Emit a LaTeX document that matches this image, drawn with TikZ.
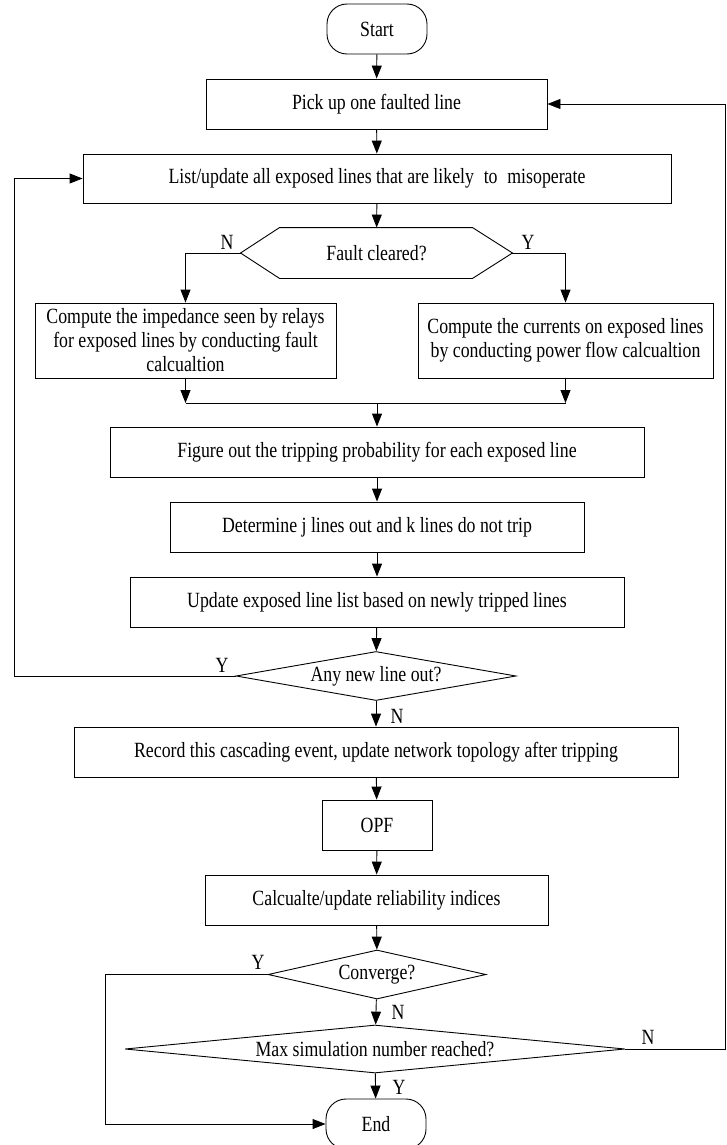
\documentclass[tikz,border=0pt]{standalone}
\usepackage{fontspec}
\setmainfont{Liberation Serif}[FakeStretch=0.82]
\usetikzlibrary{arrows.meta, shapes.geometric}

\tikzset{
    block/.style={draw, rectangle, inner sep=0pt, align=center},
    terminal/.style={draw, rectangle, rounded corners=20pt, inner sep=0pt, minimum width=100pt, minimum height=50pt},
    decision/.style={draw, diamond, inner sep=0pt},
    tag/.style={inner sep=0pt}
}

\begin{document}
\begin{tikzpicture}[x=1pt, y=-1pt, line width=0.9pt, >={Triangle[length=13pt,width=10pt]},
    font=\fontsize{21.7}{24}\selectfont]
    \useasboundingbox (0,0) rectangle (726,1145);

    % Top part
    \node[terminal] (start) at (377,29) {Start};
    \node[block, minimum width=341pt, minimum height=50pt] (pick) at (376.5,104) {Pick up one faulted line};
    \node[block, minimum width=588pt, minimum height=49pt] (list) at (377,178.5)
        {List/update all exposed lines that are likely\hspace{0.45em}to\hspace{0.45em}misoperate};

    % Fault cleared (hexagon)
    \node[tag, minimum width=271pt, minimum height=50pt] (fault) at (376.5,253) {Fault cleared?};
    \draw (fault.west) -- ([xshift=39pt]fault.north west) -- ([xshift=-40pt]fault.north east)
        -- (fault.east) -- ([xshift=-40pt]fault.south east) -- ([xshift=39pt]fault.south west) -- cycle;

    % Two branches
    \node[block, minimum width=301pt, minimum height=75pt] (cl) at (185.5,340.5)
        {Compute the impedance seen by relays\\for exposed lines by conducting fault\\calcualtion};
    \node[block, minimum width=295pt, minimum height=75pt] (cr) at (565.5,340.5)
        {Compute the currents on exposed lines\\by conducting power flow calcualtion};
    \coordinate (jl) at (185.5,403);
    \coordinate (jr) at (565.5,403);
    \coordinate (jc) at (377,403);

    % Middle part
    \node[block, minimum width=534pt, minimum height=50pt] (fig) at (377,452)
        {Figure out the tripping probability for each exposed line};
    \node[block, minimum width=414pt, minimum height=50pt] (det) at (377,527)
        {Determine j lines out and k lines do not trip};
    \node[block, minimum width=494pt, minimum height=50pt] (upd) at (377,602)
        {Update exposed line list based on newly tripped lines};
    \node[decision, aspect=5.7, minimum width=280pt, minimum height=49pt] (anynew) at (376,676) {Any new line out?};
    \coordinate (lloop) at (14,178.5);

    % Bottom part
    \node[block, minimum width=604pt, minimum height=50pt] (rec) at (376,752)
        {Record this cascading event, update network topology after tripping};
    \node[block, minimum width=110pt, minimum height=50pt] (opf) at (377,825) {OPF};
    \node[block, minimum width=343pt, minimum height=50pt] (calc) at (376.5,900)
        {Calcualte/update reliability indices};
    \node[decision, aspect=4.45, minimum width=218pt, minimum height=49pt] (conv) at (377,974.5) {Converge?};
    \node[decision, aspect=10.4, minimum width=500pt, minimum height=48pt] (max) at (375,1049)
        {Max simulation number reached?};
    \node[terminal] (end) at (376,1124) {End};
    \coordinate (cloop) at (105,974.5);
    \coordinate (rloop) at (725,1049);

    % Arrows
    \draw[->] (start) -- (pick);
    \draw[->] (pick) -- (list);
    \draw[->] (list) -- (fault);
    \draw[->] (fault.west) -| (cl.north);
    \draw[->] (fault.east) -| (cr.north);
    \draw[->] (cl.south) -- (jl);
    \draw[->] (cr.south) -- (jr);
    \draw (jl) -- (jr);
    \draw[->] (jc) -- (fig.north);
    \draw[->] (fig) -- (det);
    \draw[->] (det) -- (upd);
    \draw[->] (upd) -- (anynew);
    \draw[->] (anynew.west) -| (lloop) -- (list.west);
    \draw[->] (anynew) -- (rec);
    \draw[->] (rec) -- (opf);
    \draw[->] (opf) -- (calc);
    \draw[->] (calc) -- (conv);
    \draw[->] (conv) -- (max);
    \draw[->] (conv.west) -- (cloop) |- (end.west);
    \draw[->] (max) -- (end);
    \draw[->] (max.east) -- (rloop) |- (pick.east);

    % Labels
    \node[tag] (n1) at (227,242) {N};
    \node[tag] (y1) at (528,242) {Y};
    \node[tag] (y2) at (222,665) {Y};
    \node[tag] (n2) at (397,716) {N};
    \node[tag] (y3) at (258,962) {Y};
    \node[tag] (n3) at (398,1012) {N};
    \node[tag] (n4) at (648,1037) {N};
    \node[tag] (y4) at (399,1087) {Y};
\end{tikzpicture}
\end{document}
